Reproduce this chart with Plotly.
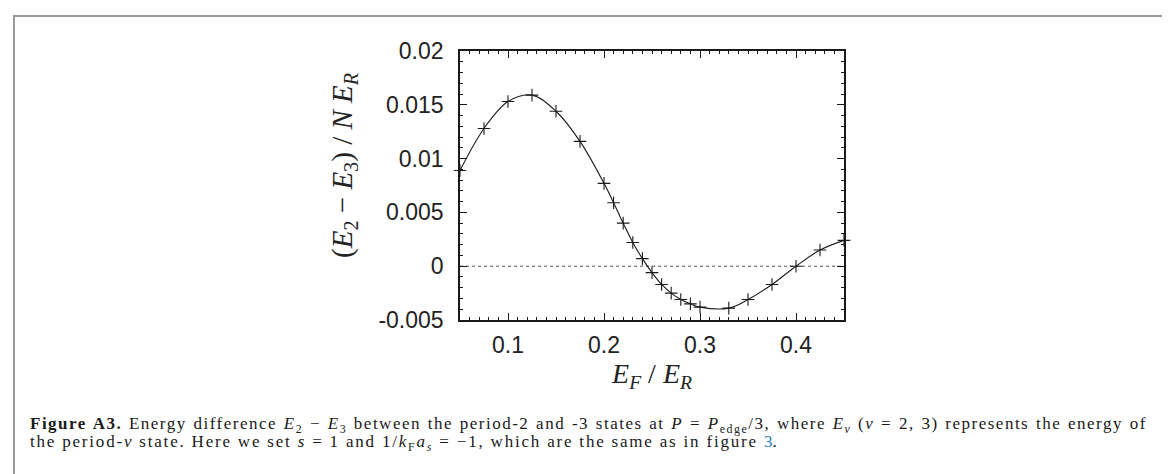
import plotly.graph_objects as go

# Data
ef_over_er = [0.05, 0.075, 0.10, 0.125, 0.15, 0.175, 0.20, 0.21, 0.22, 0.23, 0.24,
              0.25, 0.26, 0.27, 0.28, 0.29, 0.30, 0.33, 0.35, 0.375, 0.40, 0.425, 0.45]
energy_diff = [0.0089, 0.0128, 0.0153, 0.0159, 0.0144, 0.0116, 0.0077, 0.0059, 0.0040,
               0.0022, 0.0007, -0.0006, -0.0017, -0.0025, -0.0031, -0.0035, -0.0038,
               -0.0039, -0.0031, -0.0017, 0.0000, 0.0015, 0.0024]

x_tick_vals = [0.1, 0.2, 0.3, 0.4]
x_tick_text = ["0.1", "0.2", "0.3", "0.4"]
y_tick_vals = [-0.005, 0.0, 0.005, 0.01, 0.015, 0.02]
y_tick_text = ["-0.005", "0", "0.005", "0.01", "0.015", "0.02"]

W, H = 1170, 474
L, R, T, B = 452, 334, 43, 162
PW, PH = W - L - R, H - T - B


def px(x):
    return (x - L) / PW


def py(y):
    return (H - B - y) / PH


fig = go.Figure()

# zero reference line
fig.add_trace(go.Scatter(
    x=[0.05, 0.45], y=[0, 0], mode="lines",
    line=dict(color="#555555", width=1, dash="dot"),
    hoverinfo="skip", showlegend=False))

fig.add_trace(go.Scatter(
    x=ef_over_er, y=energy_diff, mode="lines+markers",
    line=dict(color="#1a1a1a", width=1.1, shape="spline", smoothing=1.0),
    marker=dict(symbol="cross-thin", size=9, line=dict(color="#1a1a1a", width=1.1)),
    showlegend=False, cliponaxis=False))

axis_common = dict(
    showgrid=False, zeroline=False, showline=True, linecolor="#1a1a1a", linewidth=1.6,
    mirror="allticks", ticks="inside", ticklen=7, tickwidth=1, tickcolor="#1a1a1a",
    tickfont=dict(family="Liberation Sans, Arial, sans-serif", size=23, color="#222222"),
)

fig.update_xaxes(
    range=[0.05, 0.45], tickvals=x_tick_vals, ticktext=x_tick_text,
    minor=dict(ticks="inside", dtick=0.01, ticklen=3.5, tickcolor="#1a1a1a", tickwidth=1),
    title=dict(text="<i>E<sub>F</sub></i> / <i>E<sub>R</sub></i>",
               font=dict(family="Liberation Serif, Times New Roman, serif", size=28, color="#222222"),
               standoff=6),
    ticklabelstandoff=4,
    **axis_common)

fig.update_yaxes(
    range=[-0.005, 0.02], tickvals=y_tick_vals, ticktext=y_tick_text,
    minor=dict(ticks="inside", dtick=0.001, ticklen=3.5, tickcolor="#1a1a1a", tickwidth=1),
    ticklabelstandoff=10,
    **axis_common)

# y-axis title (placed as an annotation to match its off-centre position)
fig.add_annotation(
    x=px(336), y=py(157), xref="paper", yref="paper", textangle=-90,
    text="(<i>E</i><sub>2</sub> − <i>E</i><sub>3</sub>) / <i>N</i> <i>E<sub>R</sub></i>",
    showarrow=False, xanchor="center", yanchor="middle",
    font=dict(family="Liberation Serif, Times New Roman, serif", size=29, color="#222222"))

caption1 = ("<span style='letter-spacing:1.5px;word-spacing:1px'><b>Figure A3.</b> Energy difference "
            "<i>E</i><sub>2</sub> − <i>E</i><sub>3</sub> between the "
            "period-2 and -3 states at <i>P</i> = <i>P</i><sub>edge</sub>/3, where <i>E<sub>ν</sub></i> "
            "(<i>ν</i> = 2, 3) represents the energy of</span>")
caption2 = ("<span style='letter-spacing:1.8px'>the period-<i>ν</i> state. Here we set <i>s</i> = 1 and "
            "1/<i>k</i><sub>F</sub><i>a<sub>s</sub></i> "
            "= −1, which are the same as in figure </span><span style='color:#2f7fc1'>3</span>"
            "<span style='letter-spacing:1.8px'>.</span>")

cap_font = dict(family="Liberation Serif, Times New Roman, serif", size=17, color="#1a1a1a")
fig.add_annotation(x=px(20), y=py(417), xref="paper", yref="paper", text=caption1,
                   showarrow=False, xanchor="left", yanchor="middle", font=cap_font)
fig.add_annotation(x=px(20), y=py(435), xref="paper", yref="paper", text=caption2,
                   showarrow=False, xanchor="left", yanchor="middle", font=cap_font)

# outer figure frame
fig.add_shape(type="rect", xref="paper", yref="paper",
              x0=px(6), x1=px(1162), y0=py(490), y1=py(8),
              line=dict(color="#9a9a9a", width=2), layer="below")

fig.update_layout(
    width=W, height=H, margin=dict(l=L, r=R, t=T, b=B, autoexpand=False),
    plot_bgcolor="white", paper_bgcolor="white",
)

fig.write_html("out.html")
